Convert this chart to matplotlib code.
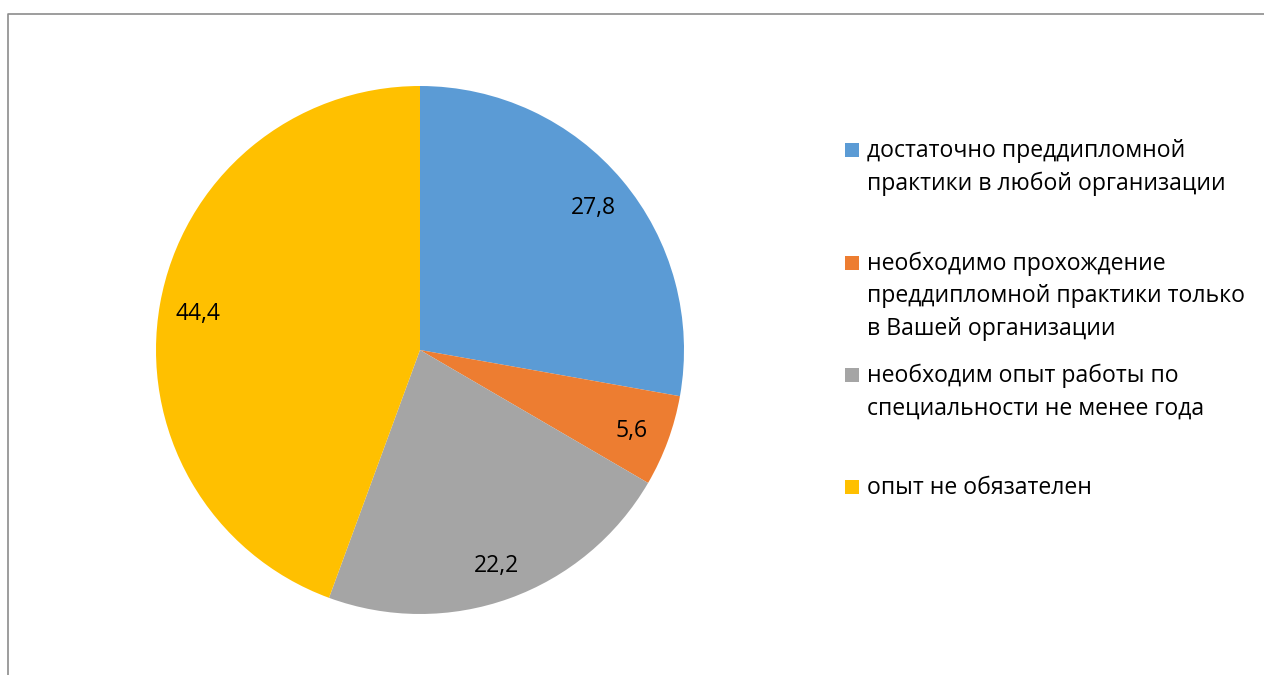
import matplotlib.pyplot as plt
from matplotlib.patches import Rectangle
import numpy as np

plt.rcParams['font.family'] = ['Open Sans', 'DejaVu Sans']

labels = ["достаточно преддипломной\nпрактики в любой организации",
          "необходимо прохождение\nпреддипломной практики только\nв Вашей организации",
          "необходим опыт работы по\nспециальности не менее года",
          "опыт не обязателен"]
values = [27.8, 5.6, 22.2, 44.4]
value_text = ["27,8", "5,6", "22,2", "44,4"]
colors = ["#5B9BD5", "#ED7D31", "#A5A5A5", "#FFC000"]

W, H = 1264, 675
fig = plt.figure(figsize=(W / 100, H / 100), dpi=100)

# pie: centre (420, 350), radius 264 px
cx, cy, r = 420, 350, 264
ax = fig.add_axes([(cx - r) / W, (H - cy - r) / H, 2 * r / W, 2 * r / H])
wedges, _ = ax.pie(values, colors=colors, startangle=90, counterclock=False,
                   radius=1)
ax.set_xlim(-1, 1)
ax.set_ylim(-1, 1)
ax.axis('off')

start = 90.0
for v, t in zip(values, value_text):
    mid = np.deg2rad(start - v * 3.6 / 2)
    start -= v * 3.6
    ax.text(0.855 * np.cos(mid), 0.855 * np.sin(mid) - 0.012, t, ha='center',
            va='center', fontsize=16.5, color='black')

# legend drawn by hand so the marker sits on the first line
first_base = [157, 269.5, 382, 494]
line_gap = 32.7
for lab, c, yb in zip(labels, colors, first_base):
    fig.add_artist(Rectangle((845 / W, (H - yb) / H), 14 / W, 14 / H,
                             transform=fig.transFigure, color=c, lw=0))
    for j, line in enumerate(lab.split("\n")):
        fig.text(867 / W, (H - yb - j * line_gap) / H, line, ha='left',
                 va='baseline', fontsize=16.6, color='black')

# chart border (only top and left visible)
fig.add_artist(plt.Line2D([8 / W, 8 / W, 1.0], [0.0, 1 - 14 / H, 1 - 14 / H],
                          transform=fig.transFigure, color='#8c8c8c', lw=1.2))

fig.savefig("out.png", dpi=100)
